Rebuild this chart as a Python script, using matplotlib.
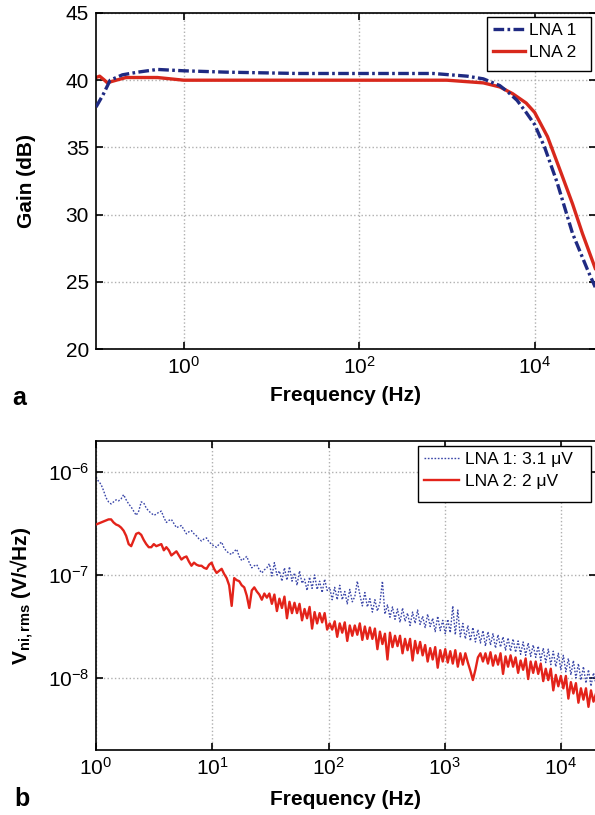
import numpy as np
import matplotlib
matplotlib.use('Agg')
import matplotlib.pyplot as plt
from matplotlib.patches import Rectangle
from matplotlib.ticker import FixedLocator, NullLocator, LogFormatterSciNotation

plt.rcParams['font.family'] = ['Liberation Sans', 'DejaVu Sans']
plt.rcParams['mathtext.fontset'] = 'custom'
plt.rcParams['mathtext.rm'] = 'Liberation Sans'
plt.rcParams['mathtext.bf'] = 'Liberation Sans:bold'
plt.rcParams['mathtext.it'] = 'Liberation Sans:italic'
plt.rcParams['mathtext.sf'] = 'Liberation Sans'

# ---------------- (a) gain data ----------------
gain_freq_lna1 = [0.1, 0.12, 0.145, 0.2, 0.3, 0.5, 1, 3, 20, 100, 700, 1700, 2600,
                  4000, 5000, 6300, 8000, 1e4, 1.3e4, 1.8e4, 2.7e4, 4e4, 4.9e4]
gain_lna1 = [38.0, 38.9, 40.0, 40.4, 40.6, 40.8, 40.7, 40.6, 40.5, 40.5, 40.5, 40.3, 40.1,
             39.6, 39.1, 38.5, 37.6, 36.7, 35.0, 32.4, 28.6, 25.9, 24.6]
gain_freq_lna2 = [0.1, 0.11, 0.125, 0.135, 0.15, 0.17, 0.22, 0.5, 1, 10, 100, 1000, 2600,
                  4000, 5600, 8000, 1e4, 1.4e4, 2e4, 2.7e4, 3.5e4, 4.9e4]
gain_lna2 = [40.2, 40.3, 40.0, 39.8, 39.9, 40.0, 40.2, 40.2, 40.0, 40.0, 40.0, 40.0, 39.8,
             39.5, 39.0, 38.3, 37.6, 35.8, 33.1, 30.8, 28.6, 26.0]

# ---------------- (b) noise data (log10 of V/sqrt(Hz)) ----------------
noise_freq_start, noise_freq_stop, noise_count = 1.0, 2e4, 200
lna1_noise_log10 = [
    -6.05, -6.09, -6.12, -6.18, -6.25, -6.29, -6.31, -6.29, -6.27, -6.28,
    -6.26, -6.22, -6.27, -6.31, -6.34, -6.38, -6.42, -6.38, -6.29, -6.30,
    -6.35, -6.38, -6.40, -6.42, -6.41, -6.39, -6.38, -6.44, -6.49, -6.47,
    -6.46, -6.50, -6.54, -6.53, -6.52, -6.56, -6.60, -6.58, -6.57, -6.60,
    -6.62, -6.65, -6.67, -6.65, -6.64, -6.68, -6.70, -6.72, -6.73, -6.70,
    -6.68, -6.74, -6.77, -6.79, -6.80, -6.77, -6.75, -6.82, -6.86, -6.84,
    -6.82, -6.88, -6.93, -6.91, -6.90, -6.95, -6.98, -6.95, -6.93,
    -6.89, -7.01, -6.88, -7.00, -6.96, -7.06, -6.93, -7.05, -6.92, -7.06,
    -6.98, -7.10, -6.96, -7.08, -7.04, -7.15, -7.02, -7.13, -7.00, -7.14,
    -7.06, -7.17, -7.04, -7.15, -7.12, -7.24, -7.12, -7.24, -7.10, -7.24,
    -7.16, -7.28, -7.14, -7.26, -7.21, -7.06, -7.19, -7.30, -7.17, -7.31,
    -7.23, -7.36, -7.24, -7.35, -7.27, -7.06, -7.38, -7.29, -7.41, -7.31,
    -7.43, -7.33, -7.46, -7.32, -7.45, -7.37, -7.49, -7.36, -7.47, -7.34,
    -7.48, -7.40, -7.51, -7.38, -7.50, -7.42, -7.55, -7.40, -7.54, -7.44,
    -7.57, -7.43, -7.56, -7.30, -7.58, -7.34, -7.60, -7.47, -7.62, -7.49,
    -7.64, -7.51, -7.65, -7.53, -7.66, -7.54, -7.69, -7.55, -7.68, -7.57,
    -7.71, -7.58, -7.70, -7.60, -7.73, -7.61, -7.74, -7.62, -7.75, -7.64,
    -7.77, -7.65, -7.78, -7.66, -7.79, -7.68, -7.80, -7.69, -7.83, -7.71,
    -7.85, -7.72, -7.87, -7.74, -7.89, -7.76, -7.92, -7.78, -7.94, -7.81,
    -7.97, -7.83, -8.00, -7.86, -8.02, -7.89, -8.05, -7.92, -8.08, -7.95,
    -8.06]
lna2_noise_log10 = [
    -6.51, -6.50, -6.49, -6.48, -6.47, -6.46, -6.46, -6.49, -6.51, -6.52,
    -6.54, -6.57, -6.62, -6.70, -6.72, -6.66, -6.60, -6.59, -6.61, -6.66,
    -6.70, -6.73, -6.73, -6.70, -6.72, -6.71, -6.70, -6.76, -6.73, -6.76,
    -6.81, -6.79, -6.77, -6.81, -6.85, -6.83, -6.82, -6.87, -6.91, -6.88,
    -6.90, -6.91, -6.91, -6.93, -6.94, -6.90, -6.88, -6.94, -6.98, -6.96,
    -6.94, -6.99, -7.03, -7.10, -7.30, -7.03, -7.05, -7.06, -7.10, -7.12,
    -7.20, -7.32, -7.15, -7.12, -7.16, -7.19, -7.24, -7.18, -7.22,
    -7.18, -7.28, -7.19, -7.35, -7.23, -7.32, -7.21, -7.42, -7.26, -7.37,
    -7.27, -7.37, -7.28, -7.44, -7.33, -7.42, -7.31, -7.52, -7.36, -7.47,
    -7.37, -7.46, -7.37, -7.53, -7.47, -7.53, -7.45, -7.60, -7.47, -7.56,
    -7.46, -7.64, -7.49, -7.59, -7.49, -7.58, -7.47, -7.63, -7.50, -7.62,
    -7.51, -7.62, -7.52, -7.72, -7.55, -7.67, -7.57, -7.82, -7.56, -7.70,
    -7.59, -7.69, -7.59, -7.76, -7.62, -7.73, -7.62, -7.83, -7.64, -7.76,
    -7.65, -7.78, -7.68, -7.84, -7.71, -7.82, -7.70, -7.90, -7.73, -7.84,
    -7.72, -7.85, -7.74, -7.86, -7.73, -7.89, -7.76, -7.87, -7.76, -7.85,
    -7.93, -8.02, -7.92, -7.80, -7.76, -7.84, -7.76, -7.86, -7.75, -7.88,
    -7.78, -7.87, -7.76, -7.96, -7.79, -7.89, -7.78, -7.89, -7.80, -7.95,
    -7.83, -7.92, -7.81, -8.01, -7.84, -7.95, -7.84, -7.96, -7.86, -8.03,
    -7.91, -8.02, -7.91, -8.12, -7.97, -8.08, -7.98, -8.10, -7.98, -8.20,
    -8.04, -8.15, -8.05, -8.24, -8.10, -8.21, -8.10, -8.28, -8.12, -8.23,
    -8.15]

gain_yticks = [20, 25, 30, 35, 40, 45]
gain_xticks = [1, 100, 10000]
noise_xticks = [1, 10, 100, 1000, 10000]
noise_yticks = [1e-8, 1e-7, 1e-6]

W, H = 595, 815
fig = plt.figure(figsize=(W / 100, H / 100), dpi=100)

def px_axes(l, t, r, b):
    return fig.add_axes([l / W, 1 - b / H, (r - l) / W, (b - t) / H])

TICK_FS = 15
LAB_FS = 15
LEG_FS = 12.5

def style_axes(ax):
    ax.tick_params(direction='in', top=True, right=True, length=5, width=1.2,
                   labelsize=TICK_FS, pad=5)
    ax.tick_params(which='minor', length=0)
    for s in ax.spines.values():
        s.set_linewidth(1.2)
    ax.grid(True, which='major', linestyle=':', color='#b0b0b0', linewidth=1.0)
    ax.set_axisbelow(True)

def legend_at(ax, l, t, r, b, pad_text, hlen):
    rect = Rectangle((l / W, 1 - b / H), (r - l) / W, (b - t) / H,
                     transform=fig.transFigure, facecolor='white',
                     edgecolor='black', linewidth=1.0, zorder=4)
    fig.add_artist(rect)
    h, lab = ax.get_legend_handles_labels()
    leg = fig.legend(h, lab, loc='upper left', bbox_to_anchor=(l / W, 1 - t / H),
                     borderaxespad=0, frameon=False, fontsize=LEG_FS,
                     handlelength=hlen, handletextpad=pad_text, borderpad=0.34,
                     labelspacing=0.38)
    leg.set_zorder(5)
    return leg

# ---------- panel a ----------
ax1 = px_axes(96, 13, 596, 349)
ax1.set_xscale('log')
ax1.plot(gain_freq_lna1, gain_lna1, color='#1f2a82', linewidth=2.4,
         dashes=(3.2, 1.0, 0.8, 1.0), label='LNA 1', zorder=3)
ax1.plot(gain_freq_lna2, gain_lna2, color='#d8281c', linewidth=2.4,
         label='LNA 2', zorder=2)
ax1.set_xlim(0.1, 5e4)
ax1.set_ylim(20, 45)
ax1.xaxis.set_major_locator(FixedLocator(gain_xticks))
ax1.xaxis.set_major_formatter(LogFormatterSciNotation())
ax1.xaxis.set_minor_locator(NullLocator())
ax1.yaxis.set_major_locator(FixedLocator(gain_yticks))
style_axes(ax1)
ax1.set_xlabel('Frequency (Hz)', fontsize=LAB_FS, fontweight='bold', labelpad=6)
ax1.set_ylabel('Gain (dB)', fontsize=LAB_FS, fontweight='bold', va='center')
ax1.yaxis.set_label_coords(-0.140, 0.5)
legend_at(ax1, 487, 17, 591, 71, 0.25, 1.85)
fig.text(12 / W, 1 - 398 / H, 'a', fontsize=18, fontweight='bold', va='center', ha='left')

# ---------- panel b ----------
noise_freq = np.logspace(np.log10(noise_freq_start), np.log10(noise_freq_stop), noise_count)
ax2 = px_axes(96, 441, 596, 750)
ax2.set_xscale('log')
ax2.set_yscale('log')
ax2.plot(noise_freq, 10 ** np.array(lna1_noise_log10), color='#3a46a8', linewidth=1.0,
         linestyle=(0, (1.2, 1.2)), label='LNA 1: 3.1 μV', zorder=2)
ax2.plot(noise_freq, 10 ** np.array(lna2_noise_log10), color='#e3231a', linewidth=1.7,
         label='LNA 2: 2 μV', zorder=3)
ax2.set_xlim(1, 2e4)
ax2.set_ylim(2e-9, 2e-6)
ax2.xaxis.set_major_locator(FixedLocator(noise_xticks))
ax2.xaxis.set_major_formatter(LogFormatterSciNotation())
ax2.xaxis.set_minor_locator(NullLocator())
ax2.yaxis.set_major_locator(FixedLocator(noise_yticks))
ax2.yaxis.set_major_formatter(LogFormatterSciNotation())
ax2.yaxis.set_minor_locator(NullLocator())
style_axes(ax2)
ax2.set_xlabel('Frequency (Hz)', fontsize=LAB_FS, fontweight='bold', labelpad=8)
ax2.set_ylabel(r'$\mathbf{V_{ni,rms}}$ (V/√Hz)', fontsize=LAB_FS, fontweight='bold',
               va='center')
ax2.yaxis.set_label_coords(-0.148, 0.5)
legend_at(ax2, 418, 446, 591, 502, 0.36, 2.0)
fig.text(14 / W, 1 - 799 / H, 'b', fontsize=18, fontweight='bold', va='center', ha='left')

fig.savefig('out.png', dpi=100)
